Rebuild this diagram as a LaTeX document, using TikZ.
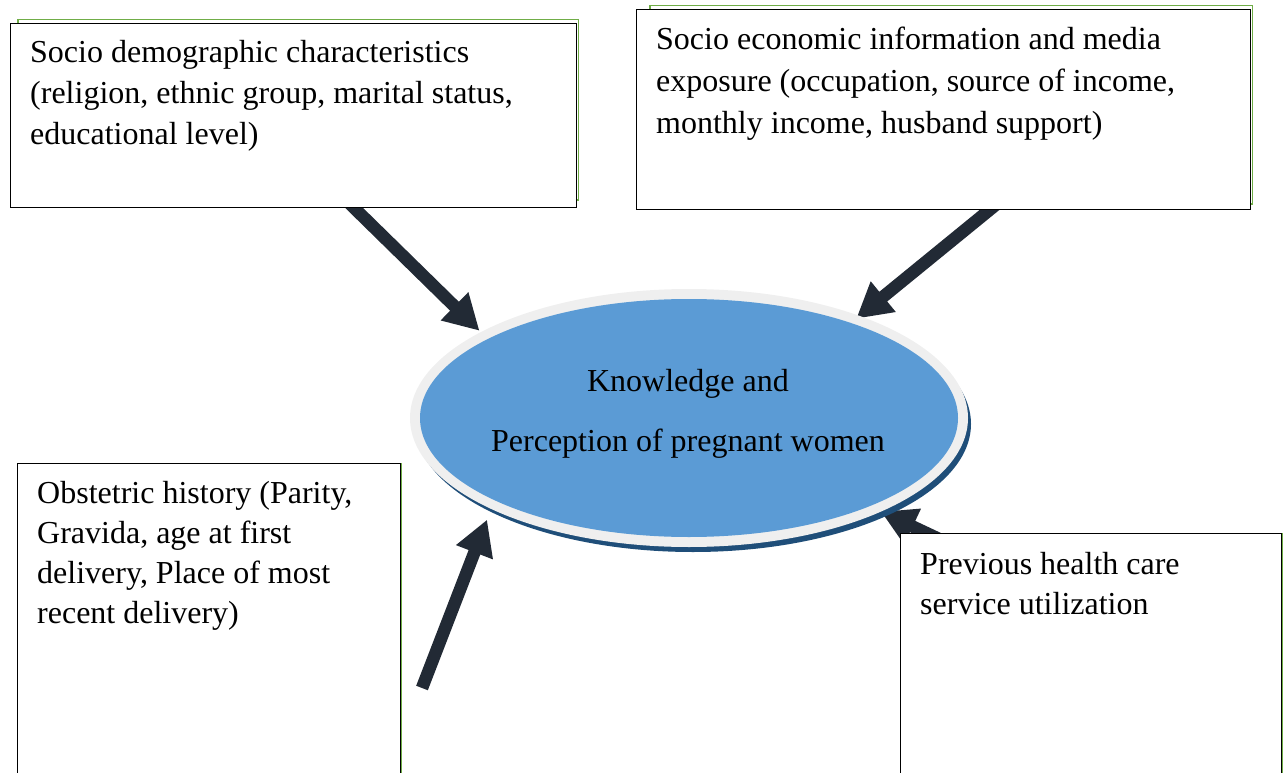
\documentclass[tikz,border=0pt]{standalone}
\usepackage{fontspec}
\setmainfont{Liberation Serif}
\usetikzlibrary{arrows.meta,shapes.geometric,backgrounds}
\definecolor{boxgreen}{HTML}{70AD47}
\definecolor{arrowdark}{HTML}{222A35}
\definecolor{ovalblue}{HTML}{5B9BD5}
\definecolor{ovalshadow}{HTML}{1F4E79}
\definecolor{ovalring}{HTML}{EFEFEF}
\begin{document}
\begin{tikzpicture}[x=1pt,y=-1pt,
  framebox/.style={draw=black, line width=0.9pt, fill=white, rectangle,
    inner sep=0pt, outer sep=0pt, anchor=north west},
  greenframe/.style={draw=boxgreen, line width=1.6pt},
  boxtext/.style={anchor=north west, inner sep=0pt, align=left,
    font=\fontsize{32}{41}\selectfont},
  oval/.style={ellipse, inner sep=0pt, outer sep=0pt},
  flow/.style={draw=arrowdark, line width=12.5pt, line cap=butt,
    -{Triangle[length=35pt,width=37pt]}}
]
\useasboundingbox (0,0) rectangle (1283,773);
\clip (0,0) rectangle (1283,773);

% green offset frames behind the boxes
\draw[greenframe] (18,19.5) rectangle (578.5,200);
\draw[greenframe] (650,5.5) rectangle (1252.5,204);
\draw[greenframe] (19,464) rectangle (401.5,800);
\draw[greenframe] (902,534) rectangle (1282.5,800);

% factor boxes
\node[framebox, minimum width=566pt, minimum height=184pt] (b1) at (10,23) {};
\node[framebox, minimum width=614pt, minimum height=200pt] (b2) at (636,9) {};
\node[framebox, minimum width=383pt, minimum height=330pt] (b3) at (17,463) {};
\node[framebox, minimum width=381pt, minimum height=260pt] (b4) at (900,533) {};

\node[boxtext] (t1) at (30,40.5) {Socio demographic characteristics\\(religion, ethnic group, marital status,\\educational level)};
\node[boxtext, font=\fontsize{32}{42}\selectfont] (t2) at (656,27) {Socio economic information and media\\exposure (occupation, source of income,\\monthly income, husband support)};
\node[boxtext, font=\fontsize{32}{40}\selectfont] (t3) at (37,481) {Obstetric history (Parity,\\Gravida, age at first\\delivery, Place of most\\recent delivery)};
\node[boxtext, font=\fontsize{32}{40}\selectfont] (t4) at (920,552) {Previous health care\\service utilization};

% central oval with its shadow and light rim
\node[oval, fill=ovalshadow, minimum width=556pt, minimum height=256pt] (kpshadow) at (693,424) {};
\node[oval, fill=ovalring, minimum width=558pt, minimum height=258pt] (kp) at (689,418) {};
\node[oval, fill=ovalblue, minimum width=538pt, minimum height=238pt] (kpcore) at (689,418) {};
\node[inner sep=0pt, align=center, font=\fontsize{32}{60}\selectfont] (kptext) at (688,414)
  {Knowledge and\\Perception of pregnant women};

\coordinate (a3tail) at (422,688);

% arrows pointing into the oval, drawn behind the boxes
\begin{scope}[on background layer]
\draw[flow] ([xshift=52pt,yshift=8pt]b1.south) -- ([xshift=-4pt]kp.157);
\draw[flow] ([xshift=55pt,yshift=6pt]b2.south) -- ([shift={(-3pt,-3pt)}]kp.31);
\draw[flow] (a3tail) -- ([shift={(-10pt,-8pt)}]kp.206);
\draw[flow] ([xshift=90pt,yshift=-30pt]b4.north west) -- (kp.-26);
\end{scope}
\end{tikzpicture}
\end{document}
